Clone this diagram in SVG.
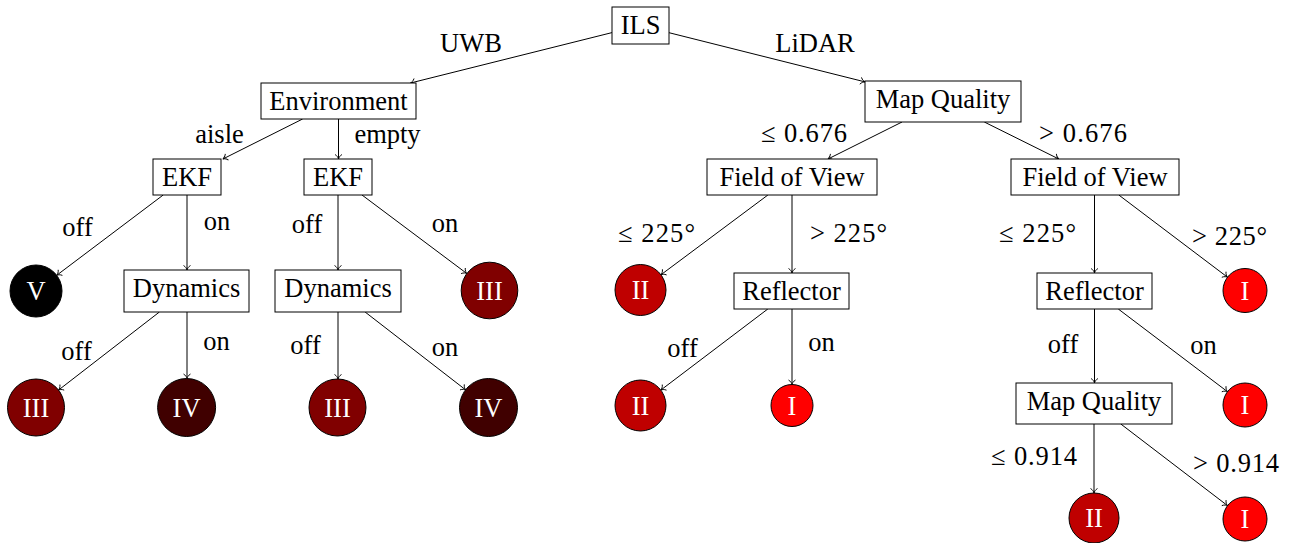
<svg xmlns="http://www.w3.org/2000/svg" width="1293" height="543" viewBox="0 0 1293 543">
<style>
text{font-family:"Liberation Serif","Times New Roman",serif;font-size:26.5px;fill:#000;text-anchor:middle}
.box{fill:#fff;stroke:#000;stroke-width:1}
.leaf{stroke:#000;stroke-width:1}
.lt{fill:#fff}
.e{stroke:#000;stroke-width:1;fill:none;marker-end:url(#arr)}
.c1{fill:#ff0000}.c2{fill:#bf0000}.c3{fill:#800000}.c4{fill:#400000}.c5{fill:#000}
</style>
<defs>
<marker id="arr" markerUnits="userSpaceOnUse" markerWidth="12" markerHeight="12" viewBox="-6 -6 12 12" refX="0" refY="0" orient="auto">
<path d="M-4.5,-3.5 C-3.2,-1.2 -1.2,-0.3 0,0 C-1.2,0.3 -3.2,1.2 -4.5,3.5" fill="none" stroke="#000" stroke-width="0.9"/>
</marker>
</defs>
<g id="connectors">
<line class="e" x1="612" y1="32.6" x2="410.5" y2="83"/>
<line class="e" x1="669" y1="32.7" x2="865" y2="81.9"/>
<line class="e" x1="302.6" y1="119" x2="222.9" y2="159"/>
<line class="e" x1="338.5" y1="119" x2="338.5" y2="159"/>
<line class="e" x1="902" y1="122" x2="828" y2="159"/>
<line class="e" x1="984.3" y1="122" x2="1058.8" y2="159"/>
<line class="e" x1="163.2" y1="195" x2="56.7" y2="275.3"/>
<line class="e" x1="187" y1="195" x2="187" y2="270"/>
<line class="e" x1="338" y1="195" x2="338" y2="270"/>
<line class="e" x1="362" y1="195" x2="466.8" y2="273.5"/>
<line class="e" x1="159.4" y1="312" x2="58.5" y2="390.1"/>
<line class="e" x1="187" y1="312" x2="187" y2="378.5"/>
<line class="e" x1="338" y1="312" x2="338" y2="379"/>
<line class="e" x1="365.1" y1="312" x2="465.7" y2="389.9"/>
<line class="e" x1="767.9" y1="195" x2="660.9" y2="274.8"/>
<line class="e" x1="792" y1="195" x2="792" y2="273"/>
<line class="e" x1="767.8" y1="309" x2="660.8" y2="390.1"/>
<line class="e" x1="792" y1="309" x2="792" y2="384.5"/>
<line class="e" x1="1094.5" y1="195" x2="1094.5" y2="273"/>
<line class="e" x1="1118.8" y1="195" x2="1227.5" y2="277.2"/>
<line class="e" x1="1094.5" y1="309" x2="1094.5" y2="383"/>
<line class="e" x1="1118.3" y1="309" x2="1227.5" y2="391.7"/>
<line class="e" x1="1094" y1="424" x2="1094" y2="493"/>
<line class="e" x1="1120.8" y1="424" x2="1227.5" y2="505.6"/>
</g>
<g id="edge-labels">
<text x="471" y="52">UWB</text>
<text x="815" y="52">LiDAR</text>
<text x="219.5" y="143">aisle</text>
<text x="387.5" y="143">empty</text>
<text x="804" y="142" textLength="86" lengthAdjust="spacing">≤ 0.676</text>
<text x="1083" y="142" textLength="88" lengthAdjust="spacing">&gt; 0.676</text>
<text x="77.5" y="236">off</text>
<text x="217" y="230">on</text>
<text x="307" y="233">off</text>
<text x="445" y="232">on</text>
<text x="76.5" y="360">off</text>
<text x="216.5" y="350">on</text>
<text x="305.5" y="354">off</text>
<text x="445" y="356">on</text>
<text x="656.5" y="242" textLength="77" lengthAdjust="spacing">≤ 225°</text>
<text x="848.5" y="242" textLength="77" lengthAdjust="spacing">&gt; 225°</text>
<text x="682.5" y="357">off</text>
<text x="821.5" y="351">on</text>
<text x="1037.5" y="242" textLength="77" lengthAdjust="spacing">≤ 225°</text>
<text x="1229.5" y="245" textLength="75" lengthAdjust="spacing">&gt; 225°</text>
<text x="1063" y="353">off</text>
<text x="1203.5" y="354">on</text>
<text x="1034" y="465" textLength="86" lengthAdjust="spacing">≤ 0.914</text>
<text x="1236" y="472" textLength="86" lengthAdjust="spacing">&gt; 0.914</text>
</g>
<g id="n-ils"><rect class="box" x="612" y="7" width="57" height="37"/><text x="640.5" y="34">ILS</text></g>
<g id="n-env"><rect class="box" x="261" y="83" width="155" height="36"/><text x="338.5" y="110">Environment</text></g>
<g id="n-map1"><rect class="box" x="865" y="81" width="156" height="41"/><text x="943" y="108">Map Quality</text></g>
<g id="n-ekf1"><rect class="box" x="153" y="159" width="68" height="36"/><text x="187" y="186">EKF</text></g>
<g id="n-ekf2"><rect class="box" x="304" y="159" width="68" height="36"/><text x="338" y="186">EKF</text></g>
<g id="n-fov1"><rect class="box" x="707" y="159" width="170" height="36"/><text x="792" y="186">Field of View</text></g>
<g id="n-fov2"><rect class="box" x="1011" y="159" width="168" height="36"/><text x="1095" y="186">Field of View</text></g>
<g id="n-dyn1"><rect class="box" x="124" y="270" width="125" height="42"/><text x="186.5" y="297">Dynamics</text></g>
<g id="n-dyn2"><rect class="box" x="275" y="270" width="126" height="42"/><text x="338" y="297">Dynamics</text></g>
<g id="n-refl1"><rect class="box" x="734" y="273" width="115" height="36"/><text x="791.5" y="300">Reflector</text></g>
<g id="n-refl2"><rect class="box" x="1037" y="273" width="115" height="36"/><text x="1094.5" y="300">Reflector</text></g>
<g id="n-map2"><rect class="box" x="1016" y="383" width="156" height="41"/><text x="1094" y="410">Map Quality</text></g>
<g id="l-v"><circle class="leaf c5" cx="36" cy="291" r="26"/><text class="lt" x="36" y="300">V</text></g>
<g id="l-iii1"><circle class="leaf c3" cx="489.5" cy="290.5" r="28.3"/><text class="lt" x="489.5" y="299.5">III</text></g>
<g id="l-ii1"><circle class="leaf c2" cx="640.5" cy="290" r="25.5"/><text class="lt" x="640.5" y="299">II</text></g>
<g id="l-i1"><circle class="leaf c1" cx="1245" cy="290.5" r="22"/><text class="lt" x="1245" y="299.5">I</text></g>
<g id="l-iii2"><circle class="leaf c3" cx="36" cy="407.5" r="28.5"/><text class="lt" x="36" y="416.5">III</text></g>
<g id="l-iv1"><circle class="leaf c4" cx="186.6" cy="407.5" r="29"/><text class="lt" x="186.6" y="416.5">IV</text></g>
<g id="l-iii3"><circle class="leaf c3" cx="337.5" cy="407.5" r="28.5"/><text class="lt" x="337.5" y="416.5">III</text></g>
<g id="l-iv2"><circle class="leaf c4" cx="488.5" cy="407.5" r="29"/><text class="lt" x="488.5" y="416.5">IV</text></g>
<g id="l-ii2"><circle class="leaf c2" cx="640.5" cy="405.5" r="25.5"/><text class="lt" x="640.5" y="414.5">II</text></g>
<g id="l-i2"><circle class="leaf c1" cx="792" cy="405.5" r="21"/><text class="lt" x="792" y="414.5">I</text></g>
<g id="l-i3"><circle class="leaf c1" cx="1245" cy="405" r="22"/><text class="lt" x="1245" y="414">I</text></g>
<g id="l-ii3"><circle class="leaf c2" cx="1094" cy="518" r="25"/><text class="lt" x="1094" y="527">II</text></g>
<g id="l-i4"><circle class="leaf c1" cx="1245" cy="519" r="22"/><text class="lt" x="1245" y="528">I</text></g>
</svg>
